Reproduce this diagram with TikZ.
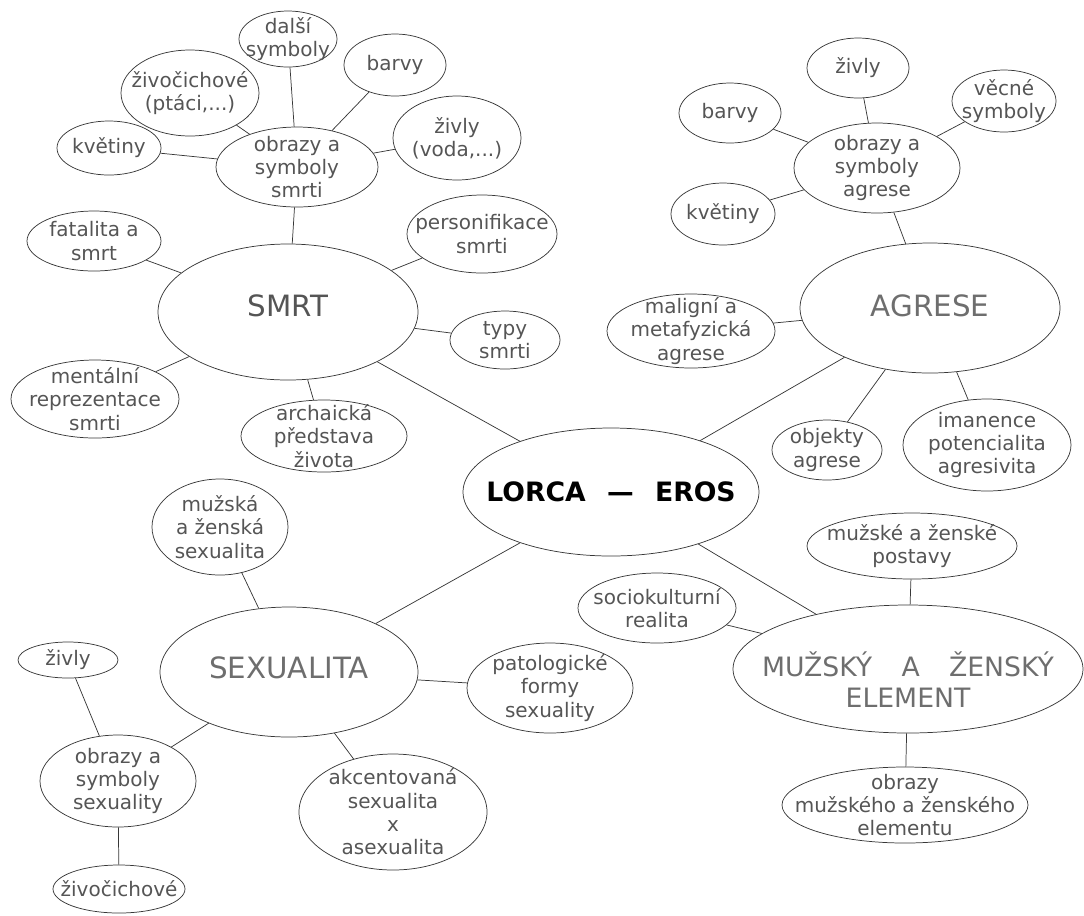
\documentclass[tikz,border=0pt]{standalone}
\usepackage{fontspec}
\setmainfont{DejaVu Sans}
\usepackage{tikz}
\usetikzlibrary{shapes.geometric}
\definecolor{edge}{RGB}{55,55,55}
\definecolor{ink}{RGB}{85,85,85}
\definecolor{soft}{RGB}{110,110,110}

\begin{document}
\begin{tikzpicture}[
      x=.75pt, y=-.75pt, font=\fontsize{15}{17.5}\selectfont,
      every label/.style={align=center, inner sep=0pt, text=ink},
      oval/.style 2 args={draw=edge, line width=.55pt, ellipse, inner sep=0pt,
                          minimum width=#1*.75pt, minimum height=#2*.75pt},
      big/.style={font=\fontsize{22}{26}\selectfont, text=soft},
      link/.style={draw=edge, line width=.55pt},
    ]
    \useasboundingbox (0,0) rectangle (1084,915);

    % centre and the four topics
    \node[oval={296}{128}, label={[font=\fontsize{20}{24}\selectfont\bfseries, text=black]
          center:LORCA\hspace{.8em}—\hspace{.8em}EROS}] (lorca) at (611,492) {};
    \node[oval={260}{136}, label={[big, text=ink, yshift=5pt]center:SMRT}] (smrt) at (288,312) {};
    \node[oval={260}{130}, label={[big, yshift=2pt]center:AGRESE}] (agr) at (930,308) {};
    \node[oval={258}{130}, label={[big, yshift=3pt]center:SEXUALITA}] (sex) at (289,672) {};
    \node[oval={350}{128}, label={[big, font=\fontsize{20}{23.5}\selectfont, yshift=-8pt]
          center:MUŽSKÝ\hspace{1.1em}A\hspace{1.1em}ŽENSKÝ\\ELEMENT}] (muz) at (908,669) {};

    % smrt
    \node[oval={162}{80}, label={center:obrazy a\\symboly\\smrti}] (osmrt) at (297,167) {};
    \node[oval={98}{56}, label={center:další\\symboly}] (dalsi) at (288,39) {};
    \node[oval={102}{62}, label={center:barvy}] (barvys) at (395,65) {};
    \node[oval={138}{86}, label={center:živočichové\\(ptáci,...)}] (zivocs) at (190,93) {};
    \node[oval={128}{84}, label={center:živly\\(voda,...)}] (zivlys) at (457,138) {};
    \node[oval={104}{54}, label={center:květiny}] (kvets) at (109,148) {};
    \node[oval={134}{60}, label={center:fatalita a\\smrt}] (fatal) at (94,241) {};
    \node[oval={150}{78}, label={center:personifikace\\smrti}] (person) at (482,234) {};
    \node[oval={110}{58}, label={center:typy\\smrti}] (typy) at (505,340) {};
    \node[oval={168}{78}, label={center:mentální\\reprezentace\\smrti}] (mental) at (95,399) {};
    \node[oval={166}{72}, label={center:archaická\\představa\\života}] (archa) at (324,436) {};

    % agrese
    \node[oval={166}{90}, label={center:obrazy a\\symboly\\agrese}] (oagr) at (877,168) {};
    \node[oval={102}{60}, label={center:živly}] (zivlya) at (858,68) {};
    \node[oval={102}{60}, label={center:barvy}] (barvya) at (730,113) {};
    \node[oval={104}{62}, label={center:věcné\\symboly}] (vecne) at (1004,101) {};
    \node[oval={104}{62}, label={center:květiny}] (kveta) at (723,214) {};
    \node[oval={168}{74}, label={center:maligní a\\metafyzická\\agrese}] (malig) at (691,331) {};
    \node[oval={110}{60}, label={center:objekty\\agrese}] (objekty) at (827,450) {};
    \node[oval={168}{92}, label={center:imanence\\potencialita\\agresivita}] (imanence) at (987,445) {};

    % sexualita
    \node[oval={136}{96}, label={center:mužská\\a ženská\\sexualita}] (muzska) at (220,527) {};
    \node[oval={156}{92}, label={center:obrazy a\\symboly\\sexuality}] (osex) at (118,781) {};
    \node[oval={100}{36}, label={center:živly}] (zivlyx) at (68,660) {};
    \node[oval={132}{48}, label={center:živočichové}] (zivocx) at (119,889) {};
    \node[oval={188}{116}, label={center:akcentovaná\\sexualita\\x\\asexualita}] (akcent) at (393,812) {};
    \node[oval={166}{90}, label={center:patologické\\formy\\sexuality}] (patol) at (550,688) {};

    % muzsky a zensky element
    \node[oval={210}{66}, label={center:mužské a ženské\\postavy}] (postavy) at (912,546) {};
    \node[oval={158}{70}, label={center:sociokulturní\\realita}] (socio) at (657,608) {};
    \node[oval={246}{76}, label={center:obrazy\\mužského a ženského\\elementu}] (omuz) at (905,805) {};

    % links
    \draw[link] (lorca) -- (smrt);
    \draw[link] (lorca) -- (agr);
    \draw[link] (lorca) -- (sex);
    \draw[link] (lorca) -- (muz);

    \draw[link] (smrt) -- (osmrt);
    \draw[link] (osmrt) -- (dalsi);
    \draw[link] (osmrt) -- (barvys);
    \draw[link] (osmrt) -- (zivocs);
    \draw[link] (osmrt) -- (zivlys);
    \draw[link] (osmrt) -- (kvets);
    \draw[link] (smrt) -- (fatal);
    \draw[link] (smrt) -- (person);
    \draw[link] (smrt) -- (typy);
    \draw[link] (smrt) -- (mental);
    \draw[link] (smrt) -- (archa);

    \draw[link] (agr) -- (oagr);
    \draw[link] (oagr) -- (zivlya);
    \draw[link] (oagr) -- (barvya);
    \draw[link] (oagr) -- (vecne);
    \draw[link] (oagr) -- (kveta);
    \draw[link] (agr) -- (malig);
    \draw[link] (agr) -- (objekty);
    \draw[link] (agr) -- (imanence);

    \draw[link] (sex) -- (muzska);
    \draw[link] (sex) -- (osex);
    \draw[link] (osex) -- (zivlyx);
    \draw[link] (osex) -- (zivocx);
    \draw[link] (sex) -- (akcent);
    \draw[link] (sex) -- (patol);

    \draw[link] (muz) -- (postavy);
    \draw[link] (muz) -- (socio);
    \draw[link] (muz) -- (omuz);
  \end{tikzpicture}
\end{document}
